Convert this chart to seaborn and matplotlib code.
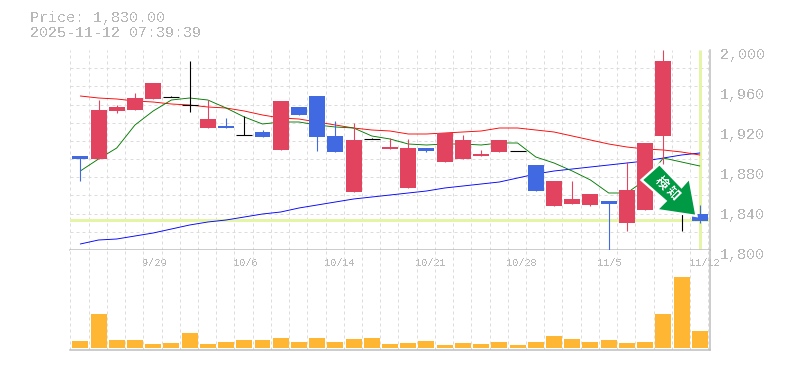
import numpy as np
import pandas as pd
import matplotlib
matplotlib.use('Agg')
import matplotlib.pyplot as plt
from matplotlib.patches import Polygon
from matplotlib.transforms import ScaledTranslation
import seaborn as sns

# data
dates = ['9/22','9/24','9/25','9/26','9/29','9/30','10/1','10/2','10/3','10/6','10/7','10/8',
         '10/9','10/10','10/14','10/15','10/16','10/17','10/20','10/21','10/22','10/23','10/24',
         '10/27','10/28','10/29','10/30','10/31','11/4','11/5','11/6','11/7','11/10','11/11','11/12']
opens = [1894,1891,1939,1940,1951,1952.7,1944.7,1922,1924,1914.7,1918,1900,1943,1954,1914,1858,1910.7,
         1901,1862,1902,1888,1891,1894,1898,1898.7,1885,1844,1846,1845,1849,1827,1840,1914,1838,1836]
closes = [1891,1940,1943,1952,1967,1952.7,1944.7,1931,1922,1914.7,1913,1949,1935,1913,1898,1910,1910.7,
          1903,1902,1899,1917,1910,1896,1910,1898.7,1859,1869,1851,1856,1846,1860,1907,1989,1838,1829]
highs = [1894,1950,1945,1957,1967,1954,1989,1950,1932,1934,1920,1949,1943,1954,1929,1927,1912,
         1912,1911,1902,1917,1915,1900,1910,1899,1885,1869,1869,1856,1849,1888,1907,2000,1838,1845]
lows = [1869,1891,1937,1940,1951,1952.7,1938,1922,1922,1914.7,1913,1900,1935,1899,1898,1858,1910.7,
        1901,1862,1898,1888,1891,1894,1898,1898.7,1859,1844,1846,1844,1799,1819,1840,1886,1819,1827]
ma_short = [1879,1891,1902,1925,1939,1950,1952,1950,1942,1933,1926,1928,1928,1925,1923,1922,1914,
            1911,1906,1905,1906,1906,1905,1907,1907,1893,1887,1879,1870,1857,1857,1870,1892,1888,1884]
ma_mid = [1954,1952,1951,1949,1948,1946,1945,1943,1942,1939,1935,1932,1931,1928,1925,1922,1920,
          1919,1916,1916,1917,1918,1919,1922,1922,1920,1918,1914,1910,1906,1903,1901,1900,1898,1895]
ma_long = [1806,1810,1811,1814,1817,1821,1825,1828,1830,1833,1836,1838,1842,1845,1848,1851,1853,
           1855,1857,1859,1862,1864,1866,1868,1872,1876,1879,1881,1883,1885,1887,1889,1892,1895,1897]
volumes = [7,34,8,8,4,5,15,4,6,8,8,10,6,10,6,9,10,4,5,7,3,5,4,6,3,6,12,9,6,8,5,6,34,71,17]
price_ticks = [1800,1840,1880,1920,1960,2000]
date_ticks = [4,9,14,19,24,29,34]
last_price = 1830

RED = '#e2445f'
BLUE = '#4169e1'
GRID = '#dcdcdc'
AXIS = '#bdbdbd'
TEXT = '#b8b8b8'
LIME = '#e5f5a8'
px = 0.72

sns.set_theme(style='white')
plt.rcParams['font.family'] = ['Liberation Mono', 'DejaVu Sans Mono']
plt.rcParams['text.antialiased'] = False

W, H = 785, 370
fig = plt.figure(figsize=(W/100, H/100), dpi=100)
ax = fig.add_axes([70/W, 1-250/H, 640/W, 200/H])
ax2 = fig.add_axes([70/W, 1-350/H, 640/W, 100/H], sharex=ax)

df = pd.DataFrame({'i': range(len(dates)), 'date': dates, 'open': opens, 'close': closes, 'high': highs,
                   'low': lows, 'ma_short': ma_short, 'ma_mid': ma_mid, 'ma_long': ma_long, 'vol': volumes})
df['color'] = np.where(df.close > df.open, RED, np.where(df.close < df.open, BLUE, 'black'))
df['doji'] = df.close == df.open

xmin, xmax = -0.565, 34.56
grid_x = np.arange(-0.54, 34.5, 1)
ax.axhline(last_price, color=LIME, lw=3*px, zorder=1.5)
ax.plot([34, 34], [1801, 2000], color=LIME, lw=3*px, zorder=1.5, solid_capstyle='butt')

for col, c in [('ma_long', '#0000ff'), ('ma_mid', '#ff0000'), ('ma_short', '#007a00')]:
    sns.lineplot(data=df, x='i', y=col, color=c, lw=0.9*px, ax=ax, zorder=2, legend=False)

ax.vlines(df.i, df.low, df.high, colors=df.color, lw=1.1*px, zorder=3)
real = df[~df.doji]
ax.bar(real.i, (real.close-real.open).abs(), bottom=real[['open', 'close']].min(axis=1), width=0.878,
       color=real.color, zorder=3, linewidth=0)
flat = df[df.doji]
ax.hlines(flat.close, flat.i-0.439, flat.i+0.439, colors='black', lw=1.1*px, zorder=3)

ax.set_xlim(xmin, xmax)
ax.set_ylim(1800, 2000)
ax.set_yticks(np.linspace(1800, 2000, 12), minor=True)
ax.set_xticks(grid_x, minor=True)
ax.grid(which='minor', color=GRID, lw=1.0*px, ls=(0, (3, 3)), zorder=0)
ax.set_axisbelow(True)
ax.set_yticks(price_ticks)
ax.set_yticklabels([f'{p:,}' for p in price_ticks])
ax.yaxis.tick_right()
ax.tick_params(axis='y', which='both', length=0, pad=7, labelsize=10.8, labelcolor=TEXT)
ax.tick_params(axis='x', which='both', length=0, labelbottom=False)
off = ScaledTranslation(0, -3/100, fig.dpi_scale_trans)
for lab in ax.get_yticklabels():
    lab.set_transform(lab.get_transform()+off)
ax.set_xlabel('')
ax.set_ylabel('')
for s in ['top', 'left']:
    ax.spines[s].set_visible(False)
for s in ['bottom', 'right']:
    ax.spines[s].set_color(AXIS)
    ax.spines[s].set_linewidth(1.5*px)

# signal arrow, pixel offsets from the tip on the last candle
tip_x, tip_y = 33.82, 1834
shape = [(-55, -36), (-37, -52), (-15, -29), (-7, -38), (0, 0), (-40, -6), (-31, -15)]
arrow = [(tip_x+dx/18.22, tip_y-dy) for dx, dy in shape]
ax.add_patch(Polygon(arrow, closed=True, facecolor='#009944', edgecolor='white', lw=2.4*px, zorder=4, clip_on=False))
for ch, dx, dy in [('検', -35.5, -33), ('知', -24, -22.5)]:
    ax.text(tip_x+dx/18.22, tip_y-dy, ch, rotation=-45, rotation_mode='anchor', ha='center', va='center',
            color='white', fontsize=9, fontweight='bold', family=['Noto Sans CJK JP'], zorder=5)

sns.barplot(data=df, x='i', y='vol', native_scale=True, color='#ffb733', saturation=1, width=0.878,
            ax=ax2, zorder=3, linewidth=0)
ax2.set_xlim(xmin, xmax)
ax2.set_ylim(-2, 98)
ax2.set_xticks(grid_x, minor=True)
ax2.grid(which='minor', axis='x', color=GRID, lw=1.0*px, ls=(0, (3, 3)), zorder=0)
ax2.set_axisbelow(True)
ax2.set_xticks(date_ticks)
ax2.set_xticklabels([dates[i] for i in date_ticks], ha='left')
ax2.xaxis.tick_top()
ax2.tick_params(axis='x', which='both', length=0, pad=-13, labelsize=7.4, labelcolor=TEXT)
off2 = ScaledTranslation(-11/100, 0, fig.dpi_scale_trans)
for lab in ax2.get_xticklabels():
    lab.set_transform(lab.get_transform()+off2)
ax2.set_yticks([])
ax2.set_xlabel('')
ax2.set_ylabel('')
for s in ['top', 'left']:
    ax2.spines[s].set_visible(False)
for s in ['bottom', 'right']:
    ax2.spines[s].set_color(AXIS)
    ax2.spines[s].set_linewidth(1.5*px)

fig.text(30/W, 1-18/H, f'Price: {last_price:,.2f}', color=TEXT, fontsize=10.8, va='center')
fig.text(30/W, 1-33/H, '2025-11-12 07:39:39', color=TEXT, fontsize=10.8, va='center')

fig.savefig('out.png', dpi=100, facecolor='white')
